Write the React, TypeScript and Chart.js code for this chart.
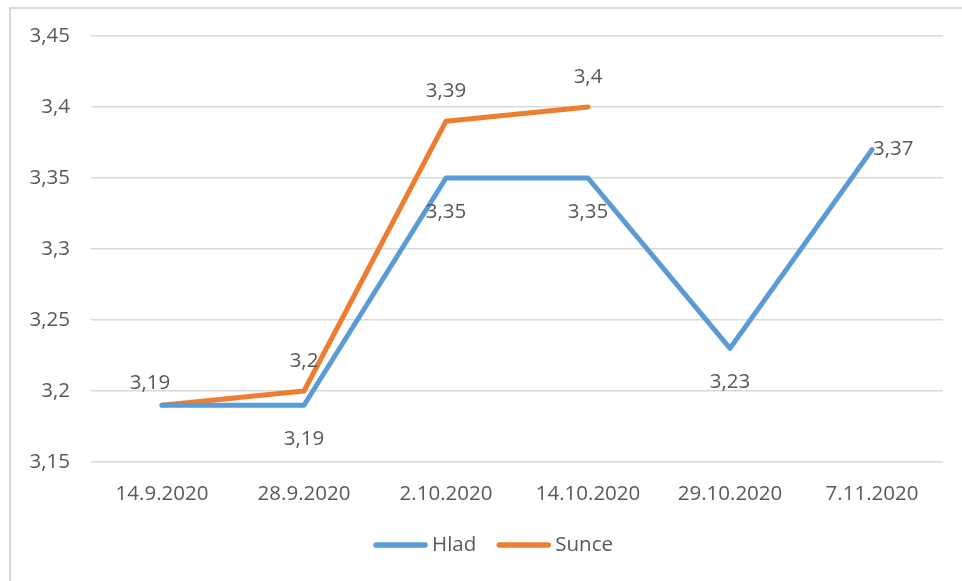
import React, { useEffect, useRef } from 'react';
import { Chart, registerables } from 'chart.js';

Chart.register(...registerables);

const categories = ['14.9.2020', '28.9.2020', '2.10.2020', '14.10.2020', '29.10.2020', '7.11.2020'];
const hladValues: (number | null)[] = [3.19, 3.19, 3.35, 3.35, 3.23, 3.37];
const sunceValues: (number | null)[] = [3.19, 3.2, 3.39, 3.4, null, null];
const yMin = 3.15;
const yMax = 3.45;
const yStep = 0.05;
const hladLabelPos = ['none', 'below', 'below', 'below', 'below', 'right'];
const sunceLabelPos = ['aboveLeft', 'above', 'above', 'above', 'none', 'none'];

const FONT = '"Open Sans", "DejaVu Sans", sans-serif';
const FONT_SIZE = 20.5;
const TEXT = '#595959';

const fmt = (v: number) => String(Math.round(v * 100) / 100).replace('.', ',');

const valueLabels = {
  id: 'valueLabels',
  afterDatasetsDraw(chart: any) {
    const ctx = chart.ctx;
    ctx.save();
    ctx.font = `${FONT_SIZE}px ${FONT}`;
    ctx.fillStyle = TEXT;
    ctx.textBaseline = 'middle';
    chart.data.datasets.forEach((ds: any, di: number) => {
      const meta = chart.getDatasetMeta(di);
      meta.data.forEach((pt: any, i: number) => {
        const v = ds.data[i];
        const pos = ds.labelPos[i];
        if (v == null || pos === 'none') return;
        let x = pt.x;
        let y = pt.y;
        ctx.textAlign = 'center';
        if (pos === 'above') {
          y -= 30;
        } else if (pos === 'aboveLeft') {
          x -= 12;
          y -= 22;
        } else if (pos === 'below') {
          y += 34;
        } else {
          ctx.textAlign = 'left';
          x += 1;
        }
        ctx.fillText(fmt(v), x, y);
      });
    });
    ctx.restore();
  },
};

const lineLegend = {
  id: 'lineLegend',
  afterDraw(chart: any) {
    const ctx = chart.ctx;
    ctx.save();
    ctx.font = `${FONT_SIZE}px ${FONT}`;
    ctx.textBaseline = 'middle';
    ctx.textAlign = 'left';
    const lineW = 55;
    const gapText = 4;
    const gapItem = 20;
    const items = chart.data.datasets.map((ds: any) => ({
      label: ds.label,
      color: ds.borderColor,
      w: lineW + gapText + ctx.measureText(ds.label).width,
    }));
    const total = items.reduce((a: number, it: any) => a + it.w, 0) + gapItem * (items.length - 1);
    let x = chart.width / 2 + 12 - total / 2;
    const y = chart.chartArea.bottom + 83;
    items.forEach((it: any) => {
      ctx.strokeStyle = it.color;
      ctx.lineWidth = 5.5;
      ctx.lineCap = 'round';
      ctx.beginPath();
      ctx.moveTo(x + 3, y);
      ctx.lineTo(x + lineW - 3, y);
      ctx.stroke();
      ctx.fillStyle = TEXT;
      ctx.fillText(it.label, x + lineW + gapText, y);
      x += it.w + gapItem;
    });
    ctx.restore();
  },
};

export default function App() {
  const ref = useRef<HTMLCanvasElement | null>(null);

  useEffect(() => {
    if (!ref.current) return;
    const chart = new Chart(ref.current, {
      type: 'line',
      data: {
        labels: categories,
        datasets: [
          {
            label: 'Hlad',
            data: hladValues,
            borderColor: '#5B9BD5',
            backgroundColor: '#5B9BD5',
            borderWidth: 5,
            pointRadius: 0,
            tension: 0,
            borderCapStyle: 'round',
            borderJoinStyle: 'round',
            labelPos: hladLabelPos,
          } as any,
          {
            label: 'Sunce',
            data: sunceValues,
            borderColor: '#ED7D31',
            backgroundColor: '#ED7D31',
            borderWidth: 5,
            pointRadius: 0,
            tension: 0,
            borderCapStyle: 'round',
            borderJoinStyle: 'round',
            labelPos: sunceLabelPos,
          } as any,
        ],
      },
      options: {
        animation: false,
        responsive: false,
        maintainAspectRatio: false,
        layout: { padding: { top: 36, right: 19, left: 0, bottom: 56 } },
        scales: {
          x: {
            offset: true,
            grid: { display: false, drawTicks: false },
            border: { display: false },
            ticks: { color: TEXT, font: { family: FONT, size: FONT_SIZE }, padding: 20, maxRotation: 0 },
            afterFit: (s: any) => { s.height = 63; },
          },
          y: {
            min: yMin,
            max: yMax,
            grid: { color: '#d9d9d9', lineWidth: 1.5, drawTicks: false },
            border: { display: false },
            ticks: {
              stepSize: yStep,
              color: TEXT,
              font: { family: FONT, size: FONT_SIZE },
              padding: 21,
              callback: (v: any) => fmt(Number(v)),
            },
            afterFit: (s: any) => { s.width = 91; },
          },
        },
        plugins: {
          tooltip: { enabled: false },
          legend: { display: false },
        },
      } as any,
      plugins: [valueLabels, lineLegend],
    });
    return () => chart.destroy();
  }, []);

  return (
    <div style={{ position: 'fixed', left: 0, top: 0, width: 962, height: 581, background: '#fff' }}>
      <div
        style={{
          position: 'absolute',
          left: 9,
          top: 7,
          width: 970,
          height: 590,
          border: '2px solid #d9d9d9',
          boxSizing: 'border-box',
        }}
      />
      <canvas ref={ref} width={962} height={581} style={{ position: 'absolute', left: 0, top: 0, width: 962, height: 581 }} />
    </div>
  );
}
